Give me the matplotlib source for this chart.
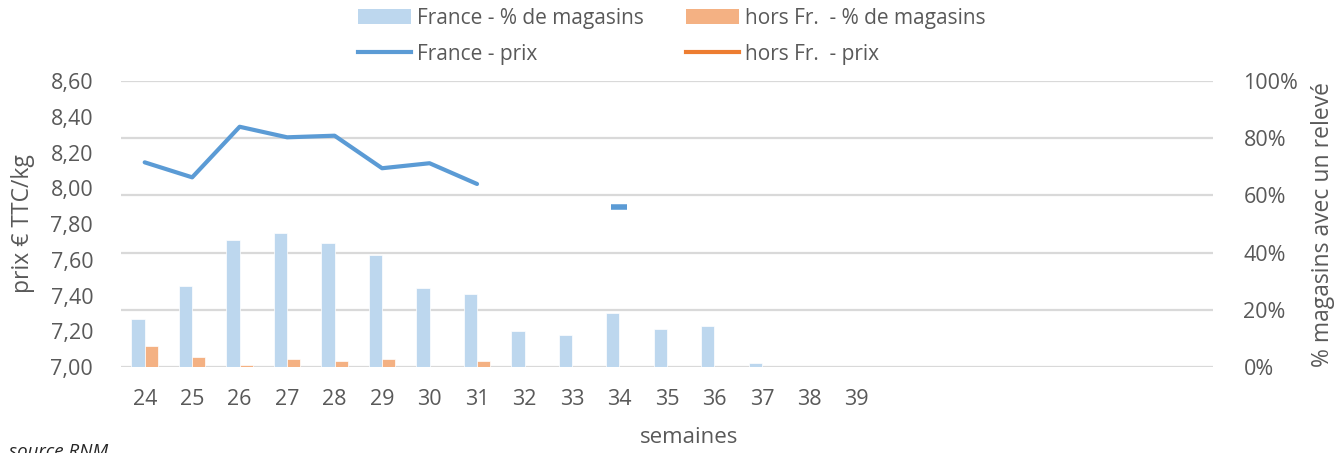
import numpy as np
import matplotlib

matplotlib.use("Agg")

import matplotlib.pyplot as plt
from matplotlib.lines import Line2D
from matplotlib.patches import Patch
from matplotlib.ticker import FuncFormatter, MultipleLocator


# weeks 24..46, only 24..39 are labelled
semaines = list(range(24, 47))
tick_labels = [str(s) if s <= 39 else "" for s in semaines]

france_pct = [16.8, 28.3, 44.4, 46.9, 43.4, 39.0, 27.6, 25.5, 12.7, 11.3, 18.8,
              13.4, 14.3, 1.3, 0, 0, 0, 0, 0, 0, 0, 0, 0]
horsfr_pct = [7.3, 3.4, 0.6, 2.7, 2.0, 2.7, 0, 2.0, 0, 0, 0,
              0, 0, 0, 0, 0, 0, 0, 0, 0, 0, 0, 0]
france_prix = [8.145, 8.061, 8.344, 8.285, 8.294, 8.112, 8.14, 8.024, np.nan, np.nan, 7.895,
               np.nan, np.nan, np.nan, np.nan, np.nan, np.nan, np.nan, np.nan, np.nan, np.nan, np.nan, np.nan]
horsfr_prix = [np.nan] * len(semaines)

BLUE_BAR = "#BDD7EE"
ORANGE_BAR = "#F4B183"
BLUE_LINE = "#5B9BD5"
ORANGE_LINE = "#ED7D31"
GRID = "#D9D9D9"
TEXT = "#595959"

plt.rcParams["font.family"] = ["Open Sans", "DejaVu Sans"]

fig = plt.figure(figsize=(13.41, 4.53), dpi=100)
ax = fig.add_axes((0.0902, 0.1898, 0.8143, 0.6314))
ax2 = ax.twinx()

x = np.arange(len(semaines))
width = 0.28

# bars on the right (percent) axis
ax2.bar(x - width / 2, france_pct, width, color=BLUE_BAR, edgecolor="white", linewidth=0.5, zorder=2)
ax2.bar(x + width / 2, horsfr_pct, width, color=ORANGE_BAR, edgecolor="white", linewidth=0.5, zorder=2)
ax2.set_ylim(0, 100)
ax2.yaxis.set_major_locator(MultipleLocator(20))
ax2.yaxis.set_major_formatter(FuncFormatter(lambda v, p: f"{v:.0f}%"))
ax2.grid(axis="y", color=GRID, linewidth=1.6, zorder=0)
ax2.set_axisbelow(True)

# price lines on the left axis, drawn on top
ax.set_zorder(ax2.get_zorder() + 1)
ax.patch.set_visible(False)
prix = np.array(france_prix)
ax.plot(x, prix, color=BLUE_LINE, linewidth=3, solid_capstyle="round", zorder=3)
isolated = [i for i in range(len(prix))
            if not np.isnan(prix[i])
            and (i == 0 or np.isnan(prix[i - 1]))
            and (i == len(prix) - 1 or np.isnan(prix[i + 1]))]
ax.plot(x[isolated], prix[isolated], linestyle="none", marker="_", markersize=12,
        markeredgewidth=4, color=BLUE_LINE, zorder=3)
ax.plot(x, horsfr_prix, color=ORANGE_LINE, linewidth=3, zorder=3)
ax.set_ylim(7.0, 8.6)
ax.yaxis.set_major_locator(MultipleLocator(0.2))
ax.yaxis.set_major_formatter(FuncFormatter(lambda v, p: f"{v:.2f}".replace(".", ",")))

ax.set_xlim(-0.5, len(semaines) - 0.5)
ax.set_xticks(x)
ax.set_xticklabels(tick_labels)

for a in (ax, ax2):
    for s in a.spines.values():
        s.set_visible(False)
    a.tick_params(length=0, labelsize=15.5, labelcolor=TEXT)
ax.tick_params(axis="y", pad=20)
ax2.tick_params(axis="y", pad=22)
ax.tick_params(axis="x", pad=16)

ax.set_ylabel("prix € TTC/kg", fontsize=16.5, color=TEXT, labelpad=11)
ax2.set_ylabel("% magasins avec un relevé", fontsize=16.5, color=TEXT, labelpad=9)
fig.text(0.514, 0.035, "semaines", fontsize=16, color=TEXT, ha="center", va="center")
fig.text(0.007, 0.021, "source RNM", fontsize=13.5, style="italic", color="#262626", va="top")

handles = [
    Patch(facecolor=BLUE_BAR, label="France - % de magasins"),
    Line2D([], [], color=BLUE_LINE, linewidth=3, label="France - prix"),
    Patch(facecolor=ORANGE_BAR, label="hors Fr.  - % de magasins"),
    Line2D([], [], color=ORANGE_LINE, linewidth=3, label="hors Fr.  - prix"),
]
leg = fig.legend(handles=handles, ncol=2, loc="center", bbox_to_anchor=(0.501, 0.92),
                 frameon=False, fontsize=15, handlelength=2.55, handleheight=0.7,
                 handletextpad=0.3, columnspacing=2.0, labelspacing=0.72)
for t in leg.get_texts():
    t.set_color(TEXT)

fig.savefig("out.png", dpi=100)
